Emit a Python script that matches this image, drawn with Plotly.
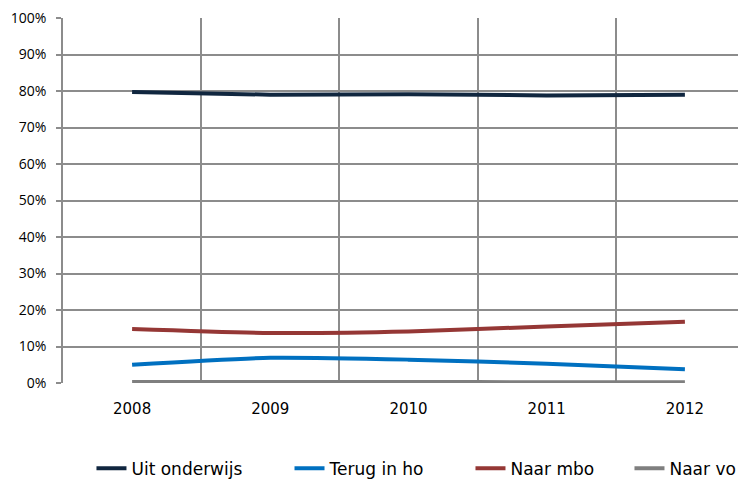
import plotly.graph_objects as go

years = ["2008", "2009", "2010", "2011", "2012"]
uit_onderwijs = [0.797, 0.790, 0.791, 0.788, 0.790]
terug_in_ho = [0.050, 0.069, 0.064, 0.053, 0.038]
naar_mbo = [0.148, 0.137, 0.141, 0.155, 0.168]
naar_vo = [0.003, 0.003, 0.003, 0.002, 0.002]

series_names = ["Uit onderwijs", "Terug in ho", "Naar mbo", "Naar vo"]
series_values = [uit_onderwijs, terug_in_ho, naar_mbo, naar_vo]
series_colors = ["#10263f", "#0070c0", "#953735", "#7f7f7f"]
legend_x = [0.0412, 0.3278, 0.5897, 0.8198]

x = list(range(len(years)))
fig = go.Figure()
legend_ids = ["legend", "legend2", "legend3", "legend4"]
for name, vals, col, lid in zip(series_names, series_values, series_colors, legend_ids):
    fig.add_trace(go.Scatter(
        x=x, y=vals, name=name, mode="lines", legend=lid,
        line=dict(color=col, width=4, shape="spline", smoothing=0.6),
    ))

grid = "#8c8c8c"
legend_layout = {}
for lid, lx in zip(legend_ids, legend_x):
    legend_layout[lid] = dict(
        orientation="h", x=lx, xanchor="left", y=-0.235, yanchor="middle",
        font=dict(family="DejaVu Sans", size=17, color="#000000"),
        itemwidth=30, bgcolor="rgba(0,0,0,0)",
    )

fig.update_layout(
    width=746, height=481,
    margin=dict(l=55, r=0, t=10, b=105.5, autoexpand=False),
    plot_bgcolor="white", paper_bgcolor="white",
    font=dict(family="DejaVu Sans", size=13, color="#000000"),
    showlegend=True,
    xaxis=dict(
        range=[-0.5, 4.5], tickvals=x, ticktext=years,
        showgrid=False, ticks="", ticklabelstandoff=15,
        zeroline=False, showline=False, automargin=False,
        minor=dict(tick0=0.5, dtick=1, showgrid=True, gridcolor=grid, gridwidth=1.5),
        tickfont=dict(family="DejaVu Sans", size=15),
        ticklabeloverflow="allow",
    ),
    yaxis=dict(
        range=[0, 1], dtick=0.1, tickformat=".0%",
        showgrid=True, gridcolor=grid, gridwidth=1.5,
        ticks="outside", ticklen=5, tickcolor=grid, tickwidth=1.5,
        showline=True, linecolor=grid, linewidth=1.5,
        zeroline=False, tickfont=dict(family="Open Sans", size=14),
        automargin=False, ticklabelstandoff=7, ticklabeloverflow="allow",
    ),
    **legend_layout,
)
fig.write_html("out.html")
